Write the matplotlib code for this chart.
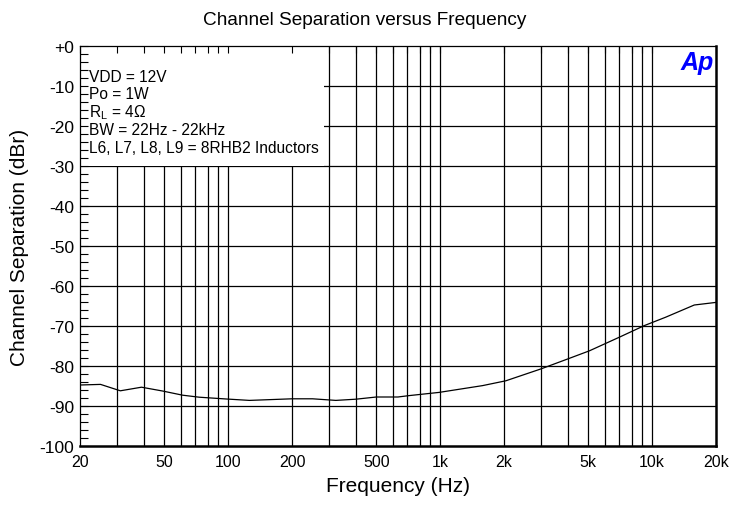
import matplotlib
matplotlib.use("Agg")
import matplotlib.pyplot as plt
from matplotlib.patches import Rectangle
import numpy as np

plt.rcParams['font.family'] = ['Liberation Sans', 'DejaVu Sans']

freq = [20, 25, 31, 39, 49, 61, 73, 98, 126, 200, 250, 322, 400, 500, 632, 714,
        988, 1586, 2040, 2980, 3990, 5060, 7000, 9180, 11580, 15800, 20000]
sep = [-84.75, -84.6, -86.2, -85.3, -86.25, -87.3, -87.8, -88.25, -88.6, -88.2, -88.2,
       -88.6, -88.3, -87.75, -87.75, -87.4, -86.6, -84.9, -83.7, -80.75, -78.25, -76.2,
       -72.8, -69.9, -67.8, -64.75, -64.1]

xticks = [20, 50, 100, 200, 500, 1000, 2000, 5000, 10000, 20000]
xticklabels = ["20", "50", "100", "200", "500", "1k", "2k", "5k", "10k", "20k"]
yticks = list(range(-100, 1, 10))
yticklabels = ["-100", "-90", "-80", "-70", "-60", "-50", "-40", "-30", "-20", "-10", "+0"]
xgrid = [30, 40, 50, 60, 70, 80, 90, 100, 200, 300, 400, 500, 600, 700, 800, 900,
         1000, 2000, 3000, 4000, 5000, 6000, 7000, 8000, 9000, 10000]
notes = ["VDD = 12V", "Po = 1W", "R$_\\mathregular{L}$ = 4\u03a9", "BW = 22Hz - 22kHz",
         "L6, L7, L8, L9 = 8RHB2 Inductors"]

fig = plt.figure(figsize=(7.30, 5.06), dpi=100)
ax = fig.add_axes([80/730, 59/506, 636/730, 400/506])
ax.set_xscale('log')
ax.set_xlim(20, 20000)
ax.set_ylim(-100, 0)

ax.vlines(xgrid, -100, 0, colors='black', linewidth=0.9, zorder=1)
ax.hlines(yticks[1:-1], 20, 20000, colors='black', linewidth=0.9, zorder=1)
ax.add_patch(Rectangle((20, -30), 284 - 20, 30, facecolor='white', edgecolor='none', zorder=1.5))

ax.plot(freq, sep, color='black', linewidth=0.9, zorder=3)

ax.set_xticks(xticks)
ax.set_xticklabels(xticklabels, fontsize=11.5)
ax.set_xticks(xgrid, minor=True)
ax.xaxis.set_minor_formatter(plt.NullFormatter())
ax.set_yticks(yticks)
ax.set_yticklabels(yticklabels, fontsize=12.5)
ax.set_yticks(np.arange(-100, 0, 2), minor=True)
ax.tick_params(axis='x', which='both', direction='in', top=True, bottom=False, length=5, width=0.8, pad=6)
ax.tick_params(axis='y', which='both', direction='in', left=True, right=False, length=6, width=0.8, pad=4)

for s in ['left', 'top']:
    ax.spines[s].set_linewidth(0.9)
for s in ['right', 'bottom']:
    ax.spines[s].set_linewidth(1.8)

fig.text(0.5, 1 - 25/506, "Channel Separation versus Frequency", fontsize=13.7,
         ha='center', va='baseline')
ax.set_xlabel("Frequency (Hz)", fontsize=15)
ax.xaxis.label.set_va('baseline')
ax.xaxis.set_label_coords(0.5, -45/400)
ax.set_ylabel("Channel Separation (dBr)", fontsize=15)
ax.yaxis.label.set_va('center')
ax.yaxis.set_label_coords(-60/636, 0.5)

for i, t in enumerate(notes):
    ax.text(0.014, 0.925 - i * 0.0445, t, transform=ax.transAxes, fontsize=11.2,
            va='center', ha='left', zorder=4)

ax.text(0.997, 0.99, "Ap", transform=ax.transAxes, color='#0000ff', fontsize=18,
        fontweight='heavy', fontstyle='italic', ha='right', va='top', zorder=4)

fig.savefig("out.png", dpi=100)
